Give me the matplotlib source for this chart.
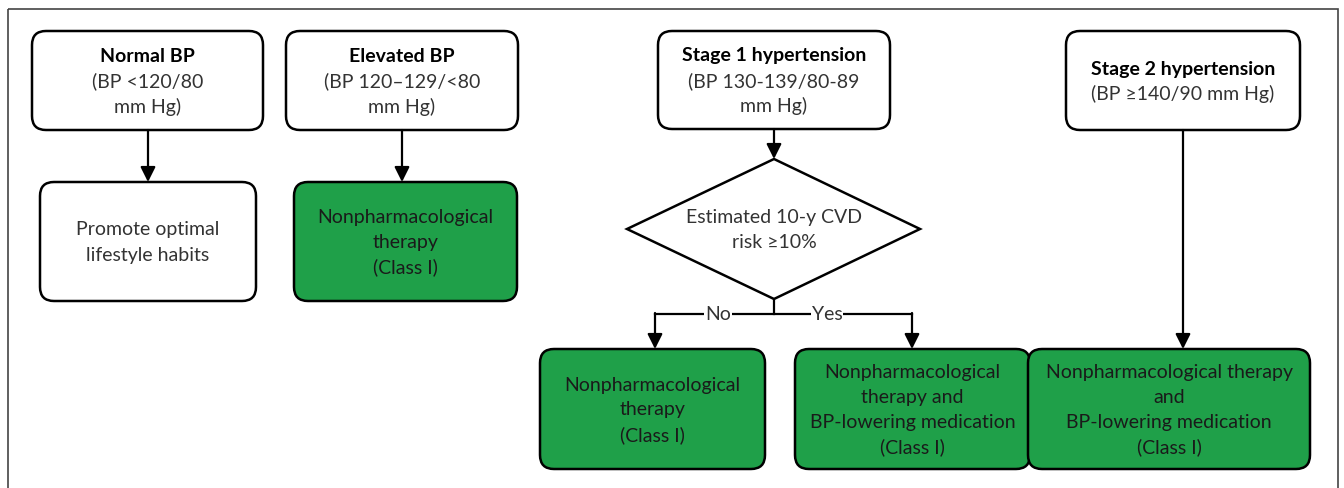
import matplotlib.pyplot as plt
from matplotlib.patches import FancyBboxPatch, Polygon, Rectangle

# stage boxes across the top
stage_titles = ["Normal BP", "Elevated BP", "Stage 1 hypertension", "Stage 2 hypertension"]
stage_ranges = [["(BP <120/80", "mm Hg)"], ["(BP 120\u2013129/<80", "mm Hg)"],
                ["(BP 130-139/80-89", "mm Hg)"], ["(BP \u2265140/90 mm Hg)"]]

# treatment boxes
treatments = [["Promote optimal", "lifestyle habits"],
              ["Nonpharmacological", "therapy", "(Class I)"],
              ["Nonpharmacological", "therapy", "(Class I)"],
              ["Nonpharmacological", "therapy and", "BP-lowering medication", "(Class I)"],
              ["Nonpharmacological therapy", "and", "BP-lowering medication", "(Class I)"]]
treat_green = [False, True, True, True, True]

decision = ["Estimated 10-y CVD", "risk \u226510%"]
branch_labels = ["No", "Yes"]

GREEN = "#1fa049"
FONT = ["Lato", "DejaVu Sans"]
FS = 14
LINE = 25  # px between text lines

# layout in pixels (x0, y0, x1, y1)
stage_boxes = [(32, 32, 263, 131), (286, 32, 518, 131), (658, 32, 890, 130), (1066, 32, 1300, 131)]
treat_boxes = [(40, 183, 256, 302), (294, 183, 517, 302), (540, 350, 765, 470),
               (795, 350, 1030, 470), (1028, 350, 1310, 470)]


def box(ax, b, fill):
    x0, y0, x1, y1 = b
    r = 14
    ax.add_patch(FancyBboxPatch((x0 + r, y0 + r), x1 - x0 - 2 * r, y1 - y0 - 2 * r,
                                boxstyle=f"round,pad={r}", fc=fill, ec="black", lw=1.8))


def lines(ax, cx, cy, rows, weights=None, color="#222222"):
    top = cy - (len(rows) - 1) * LINE / 2
    for k, row in enumerate(rows):
        w = weights[k] if weights else "normal"
        ax.text(cx, top + k * LINE, row, ha="center", va="center", fontsize=FS,
                fontweight=w, family=FONT, color="black" if w == "bold" else color)


def arrow(ax, x, ya, yb):
    ax.annotate("", xy=(x, yb), xytext=(x, ya),
                arrowprops=dict(arrowstyle="-|>,head_length=0.9,head_width=0.45",
                                color="black", lw=1.6, shrinkA=0, shrinkB=0))


def main():
    fig = plt.figure(figsize=(13.44, 4.89), dpi=100)
    ax = fig.add_axes([0, 0, 1, 1])
    ax.set_xlim(0, 1344)
    ax.set_ylim(489, 0)
    ax.axis("off")

    # outer frame
    ax.add_patch(Rectangle((8, 10), 1330, 520, fc="none", ec="#444444", lw=1.2))

    for title, rng, b in zip(stage_titles, stage_ranges, stage_boxes):
        box(ax, b, "white")
        rows = [title] + rng
        lines(ax, (b[0] + b[2]) / 2, (b[1] + b[3]) / 2, rows,
              ["bold"] + ["normal"] * len(rng), color="#333333")

    for t, b, g in zip(treatments, treat_boxes, treat_green):
        box(ax, b, GREEN if g else "white")
        lines(ax, (b[0] + b[2]) / 2, (b[1] + b[3]) / 2, t,
              color="#1a1a1a" if g else "#333333")

    # diamond
    dcx, dcy = 774, 230
    ax.add_patch(Polygon([(dcx, 160), (920, dcy), (dcx, 300), (627, dcy)],
                         closed=True, fc="white", ec="black", lw=1.8))
    lines(ax, dcx, dcy, decision, color="#333333")

    # arrows
    arrow(ax, 148, 131, 183)
    arrow(ax, 402, 131, 183)
    arrow(ax, 774, 130, 160)
    arrow(ax, 1183, 131, 350)

    # branch
    ax.plot([dcx, dcx], [300, 315], color="black", lw=1.6)
    ax.plot([655, 912], [315, 315], color="black", lw=1.6)
    arrow(ax, 655, 314, 350)
    arrow(ax, 912, 314, 350)
    for lab, x in zip(branch_labels, [718, 827]):
        ax.text(x, 315, lab, ha="center", va="center", fontsize=FS, family=FONT,
                color="#333333", bbox=dict(fc="white", ec="none", pad=0.5))

    fig.savefig("out.png", dpi=100)


if __name__ == "__main__":
    main()
